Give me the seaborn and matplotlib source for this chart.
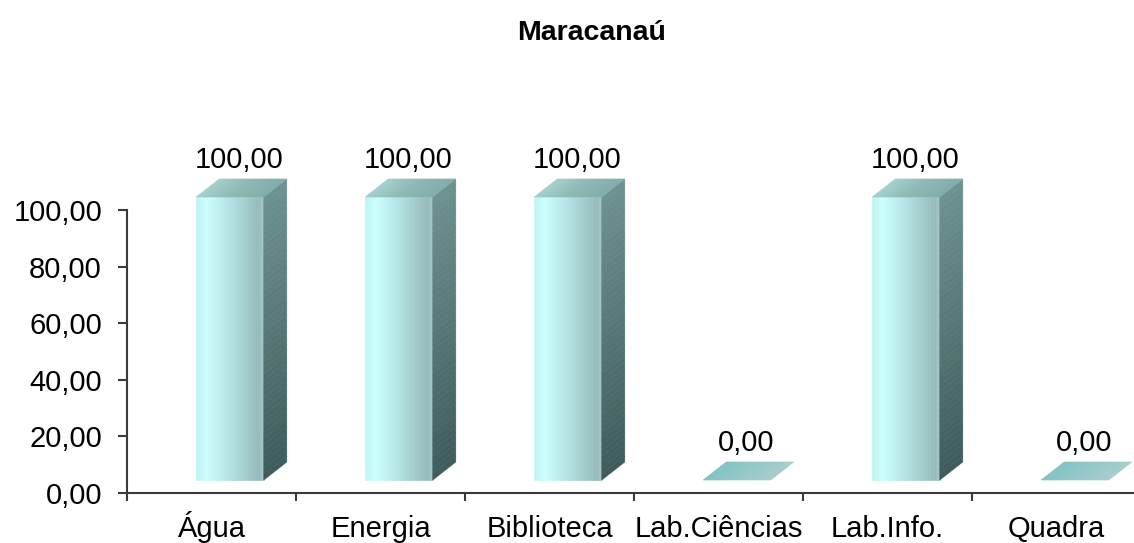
import numpy as np
import pandas as pd
import seaborn as sns
import matplotlib.pyplot as plt
from matplotlib.collections import PolyCollection
from matplotlib.colors import LinearSegmentedColormap

# ---- data -------------------------------------------------------------
titulo = "Maracanaú"
categorias = ["Água", "Energia", "Biblioteca", "Lab.Ciências", "Lab.Info.", "Quadra"]
percentuais = [100.0, 100.0, 100.0, 0.0, 100.0, 0.0]
valores_y = [0, 20, 40, 60, 80, 100]


def br(v):
    """Format a number the Brazilian way: 2 decimals, comma separator."""
    return f"{v:.2f}".replace(".", ",")


rotulos_y = [br(v) for v in valores_y]

# ---- style ------------------------------------------------------------
sns.set_theme(style="white")
plt.rcParams["font.family"] = ["Liberation Sans", "DejaVu Sans"]
EIXO = "#3a3a3a"
FS = 21

W, H = 1134, 543
fig = plt.figure(figsize=(W / 100, H / 100), dpi=100)
ax = fig.add_axes([127 / W, 50 / H, 1014 / W, 283 / H])

df = pd.DataFrame({"categoria": categorias, "valor": percentuais})
sns.barplot(data=df, x="categoria", y="valor", width=0.4, color="#b8eeee",
            errorbar=None, ax=ax)

ax.set_xlim(-0.5, len(categorias) - 0.5)
ax.set_ylim(0, 100)


def px(dx, dy):
    """Convert a pixel offset into data units of this axes."""
    inv = ax.transData.inverted()
    x0, y0 = inv.transform((0, 0))
    x1, y1 = inv.transform((dx, dy))
    return x1 - x0, y1 - y0


# 3-D look: front face is lifted/shifted a little, depth goes up-right
fx, fy = px(18.5, 13)
dx, dy = px(23, 18)

cm_front = LinearSegmentedColormap.from_list(
    "front", [(0.0, "#bff2f2"), (0.15, "#caffff"), (0.5, "#b2e2e2"),
              (0.92, "#94baba"), (1.0, "#a2c4c4")])
cm_side = LinearSegmentedColormap.from_list("side", ["#3f5b5b", "#557775", "#6d9290"])
cm_top = LinearSegmentedColormap.from_list("top", ["#a3d2ce", "#8cb8b4", "#80aca8"])
cm_flat = LinearSegmentedColormap.from_list("flat", ["#80c2c3", "#94c8c8", "#a8cccc"])

N = 48
t = np.linspace(0, 1, N + 1)
tm = (t[:-1] + t[1:]) / 2


def shaded_quad(p0, u, v, cmap, along_u=True):
    """Fill the parallelogram p0 + a*u + b*v with a gradient along u (or v)."""
    p0 = np.asarray(p0, float)
    u = np.asarray(u, float)
    v = np.asarray(v, float)
    polys = []
    for a, b in zip(t[:-1], t[1:]):
        if along_u:
            polys.append([p0 + a * u, p0 + b * u, p0 + b * u + v, p0 + a * u + v])
        else:
            polys.append([p0 + a * v, p0 + a * v + u, p0 + b * v + u, p0 + b * v])
    cols = cmap(tm)
    pc = PolyCollection(polys, facecolors=cols, edgecolors=cols, linewidths=0.4,
                        clip_on=False, zorder=3)
    ax.add_collection(pc, autolim=False)


for p, v in zip(ax.patches, percentuais):
    x0 = p.get_x() + fx
    w = p.get_width()
    h = p.get_height()
    y0 = fy
    x1 = x0 + w
    p.set_x(x0)
    p.set_y(y0)
    p.set_facecolor("none")
    p.set_edgecolor("none")
    p.set_clip_on(False)
    if h > 0:
        # front face
        shaded_quad((x0, y0), (w, 0), (0, h), cm_front, along_u=True)
        # side face (darker toward the bottom)
        shaded_quad((x1, y0), (dx, dy), (0, h), cm_side, along_u=False)
        # top face
        shaded_quad((x0, y0 + h), (w, 0), (dx, dy), cm_top, along_u=True)
    else:
        shaded_quad((x0, y0), (w, 0), (dx, dy), cm_flat, along_u=True)

# value labels
for i, v in enumerate(percentuais):
    ax.annotate(br(v), xy=(i, v), xytext=(28 * 0.72, 50 * 0.72), textcoords="offset points",
                ha="center", va="center", fontsize=FS, color="black",
                annotation_clip=False)

ax.set_xlim(-0.5, len(categorias) - 0.5)
ax.set_ylim(0, 100)

# axes, ticks and labels
sns.despine(ax=ax, top=True, right=True)
for s in ("left", "bottom"):
    ax.spines[s].set_color(EIXO)
    ax.spines[s].set_linewidth(1.5)

ax.set_yticks(valores_y)
ax.set_yticklabels(rotulos_y)
ax.tick_params(axis="y", direction="out", length=6.5, width=1.5, color=EIXO,
               pad=11.5, labelsize=FS, labelcolor="black", left=True)

ax.set_xticks(range(len(categorias)))
ax.set_xticklabels(categorias)
ax.set_xticks(np.arange(-0.5, len(categorias)), minor=True)
ax.tick_params(axis="x", which="major", length=0, pad=31.7, labelsize=FS,
               labelcolor="black")
ax.tick_params(axis="x", which="minor", direction="out", length=5.8, width=1.5,
               color=EIXO, bottom=True)
for lbl in ax.get_xticklabels():
    lbl.set_verticalalignment("baseline")

ax.set_xlabel("")
ax.set_ylabel("")
ax.grid(False)

fig.text(592 / W, 1 - 40 / H, titulo, ha="center", va="baseline",
         fontsize=20.5, fontweight="bold", color="black")

fig.savefig("out.png", dpi=100)
